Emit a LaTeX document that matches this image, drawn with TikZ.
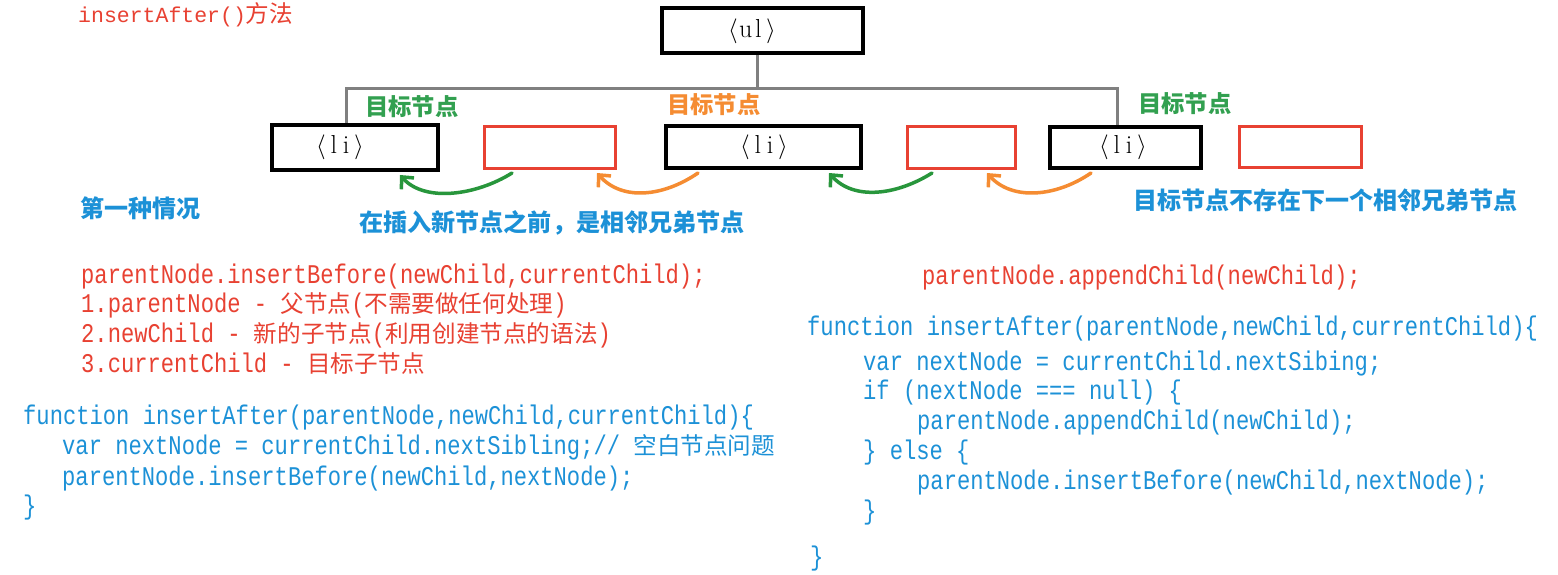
\documentclass[tikz,border=0pt]{standalone}
\usepackage{fontspec}
\usetikzlibrary{arrows.meta}
\newfontfamily\codefont{Liberation Mono}[FakeStretch=0.82]
\newfontfamily\titlemono{Liberation Mono}
\newfontfamily\cjk{Noto Sans CJK SC}
\definecolor{cred}{RGB}{232,65,50}
\definecolor{cblue}{RGB}{28,145,215}
\definecolor{cgreentxt}{RGB}{50,160,80}
\definecolor{cgreen}{RGB}{40,150,60}
\definecolor{corange}{RGB}{245,140,50}
\definecolor{cgrey}{RGB}{128,128,128}
\newcommand\zh[1]{{\fontsize{23.6}{30}\selectfont\cjk #1}}
\newcommand\tagname[2]{\makebox[13pt]{$\langle$}\makebox[12.5pt]{#1}\makebox[12.5pt]{#2}\makebox[13pt]{$\rangle$}}
\tikzset{
  blk/.style={draw=black, line width=4pt, inner sep=0pt},
  rbox/.style={draw=cred, line width=3pt, inner sep=0pt},
  conn/.style={draw=cgrey, line width=3pt},
  tagtxt/.style={inner sep=0pt, font=\fontsize{26}{30}\selectfont},
  garrow/.style={draw=cgreen, line width=3.5pt, line cap=round, -{Straight Barb[length=9pt,width=17pt]}},
  oarrow/.style={draw=corange, line width=3.5pt, line cap=round, -{Straight Barb[length=9pt,width=17pt]}},
  zhlabel/.style={inner sep=0pt, anchor=west, font=\fontsize{23.3}{28}\selectfont\cjk\bfseries},
  codeline/.style={inner sep=0pt, anchor=west, text height=21pt, text depth=6pt,
    font=\fontsize{27}{32}\selectfont\codefont},
}
\begin{document}
\begin{tikzpicture}[x=1pt, y=-1pt]
\useasboundingbox (0,0) rectangle (1558,575);
\fill[white] (0,0) rectangle (1558,575);

% title
\node[inner sep=0pt, anchor=west, text=cred, font=\fontsize{21.5}{26}\selectfont\titlemono] (title) at (78,15) {insertAfter()\zh{方法}};

% boxes
\node[blk, minimum width=201pt, minimum height=45pt] (ul) at (762.5,30.5) {};
\node[blk, minimum width=166pt, minimum height=45pt] (li1) at (355,147.5) {};
\node[rbox, minimum width=131pt, minimum height=42pt] (red1) at (550,147.5) {};
\node[blk, minimum width=195pt, minimum height=42pt] (li2) at (763.5,147) {};
\node[rbox, minimum width=108pt, minimum height=42pt] (red2) at (961.5,147.5) {};
\node[blk, minimum width=151pt, minimum height=41pt] (li3) at (1125.5,147.5) {};
\node[rbox, minimum width=122pt, minimum height=41pt] (red3) at (1300.5,147) {};

% box texts
\node[tagtxt] (ultxt) at (752,31) {\tagname{u}{l}};
\node[tagtxt] (li1txt) at (340,147) {\tagname{l}{i}};
\node[tagtxt] (li2txt) at (764,147) {\tagname{l}{i}};
\node[tagtxt] (li3txt) at (1123,147) {\tagname{l}{i}};

% tree connectors
\coordinate (hub) at (757,89);
\coordinate (busL) at (346,89);
\coordinate (busR) at (1117,89);
\draw[conn] ([xshift=-5.5pt]ul.south) -- (hub);
\draw[conn] ([xshift=-9pt]li1.north) -- (busL) -- (busR) -- ([xshift=-8.5pt]li3.north);

% target labels
\node[zhlabel, text=cgreentxt] (t1) at (365,107) {目标节点};
\node[zhlabel, text=corange] (t2) at (667,105) {目标节点};
\node[zhlabel, text=cgreentxt] (t3) at (1138,104) {目标节点};

% curved arrows
\draw[garrow] ([xshift=-38pt,yshift=-3pt]red1.south) .. controls +(-35,22) and +(25,28) .. ([xshift=45pt,yshift=-3pt]li1.south);
\draw[oarrow] ([xshift=-65.5pt,yshift=-3pt]li2.south) .. controls +(-35,24) and +(25,28) .. ([xshift=47pt,yshift=-3pt]red1.south);
\draw[garrow] ([xshift=-29.5pt,yshift=-3pt]red2.south) .. controls +(-35,22) and +(25,28) .. ([xshift=65.5pt,yshift=-3pt]li2.south);
\draw[oarrow] ([xshift=-34.5pt,yshift=-3pt]li3.south) .. controls +(-35,24) and +(25,28) .. ([xshift=25.5pt,yshift=-3pt]red2.south);

% blue notes
\node[zhlabel, text=cblue, font=\fontsize{24}{28}\selectfont\cjk\bfseries] (case1) at (80,208) {第一种情况};
\node[zhlabel, text=cblue, font=\fontsize{24.1}{28}\selectfont\cjk\bfseries] (note1) at (359,223) {在插入新节点之前，是相邻兄弟节点};
\node[zhlabel, text=cblue, font=\fontsize{24}{28}\selectfont\cjk\bfseries] (note2) at (1133,200) {目标节点不存在下一个相邻兄弟节点};

% red explanation (left)
\node[codeline, text=cred] (r1) at (81,276) {parentNode.insertBefore(newChild,currentChild);};
\node[codeline, text=cred] (r2) at (81,305) {1.parentNode - \zh{父节点}(\zh{不需要做任何处理})};
\node[codeline, text=cred] (r3) at (81,335) {2.newChild - \zh{新的子节点}(\zh{利用创建节点的语法})};
\node[codeline, text=cred] (r4) at (81,365) {3.currentChild - \zh{目标子节点}};

% blue code (left)
\node[codeline, text=cblue] (b1) at (23,417) {function insertAfter(parentNode,newChild,currentChild)\{};
\node[codeline, text=cblue] (b2) at (62,447) {var nextNode = currentChild.nextSibling;// \zh{空白节点问题}};
\node[codeline, text=cblue] (b3) at (62,478) {parentNode.insertBefore(newChild,nextNode);};
\node[codeline, text=cblue] (b4) at (23,507) {\}};

% right side
\node[codeline, text=cred] (ra) at (922,277) {parentNode.appendChild(newChild);};
\node[codeline, text=cblue] (c1) at (807,328) {function insertAfter(parentNode,newChild,currentChild)\{};
\node[codeline, text=cblue] (c2) at (863,363) {var nextNode = currentChild.nextSibing;};
\node[codeline, text=cblue] (c3) at (863,392) {if (nextNode === null) \{};
\node[codeline, text=cblue] (c4) at (917,422) {parentNode.appendChild(newChild);};
\node[codeline, text=cblue] (c5) at (863,452) {\} else \{};
\node[codeline, text=cblue] (c6) at (917,482) {parentNode.insertBefore(newChild,nextNode);};
\node[codeline, text=cblue] (c7) at (863,512) {\}};
\node[codeline, text=cblue] (c8) at (810,558) {\}};
\end{tikzpicture}
\end{document}
